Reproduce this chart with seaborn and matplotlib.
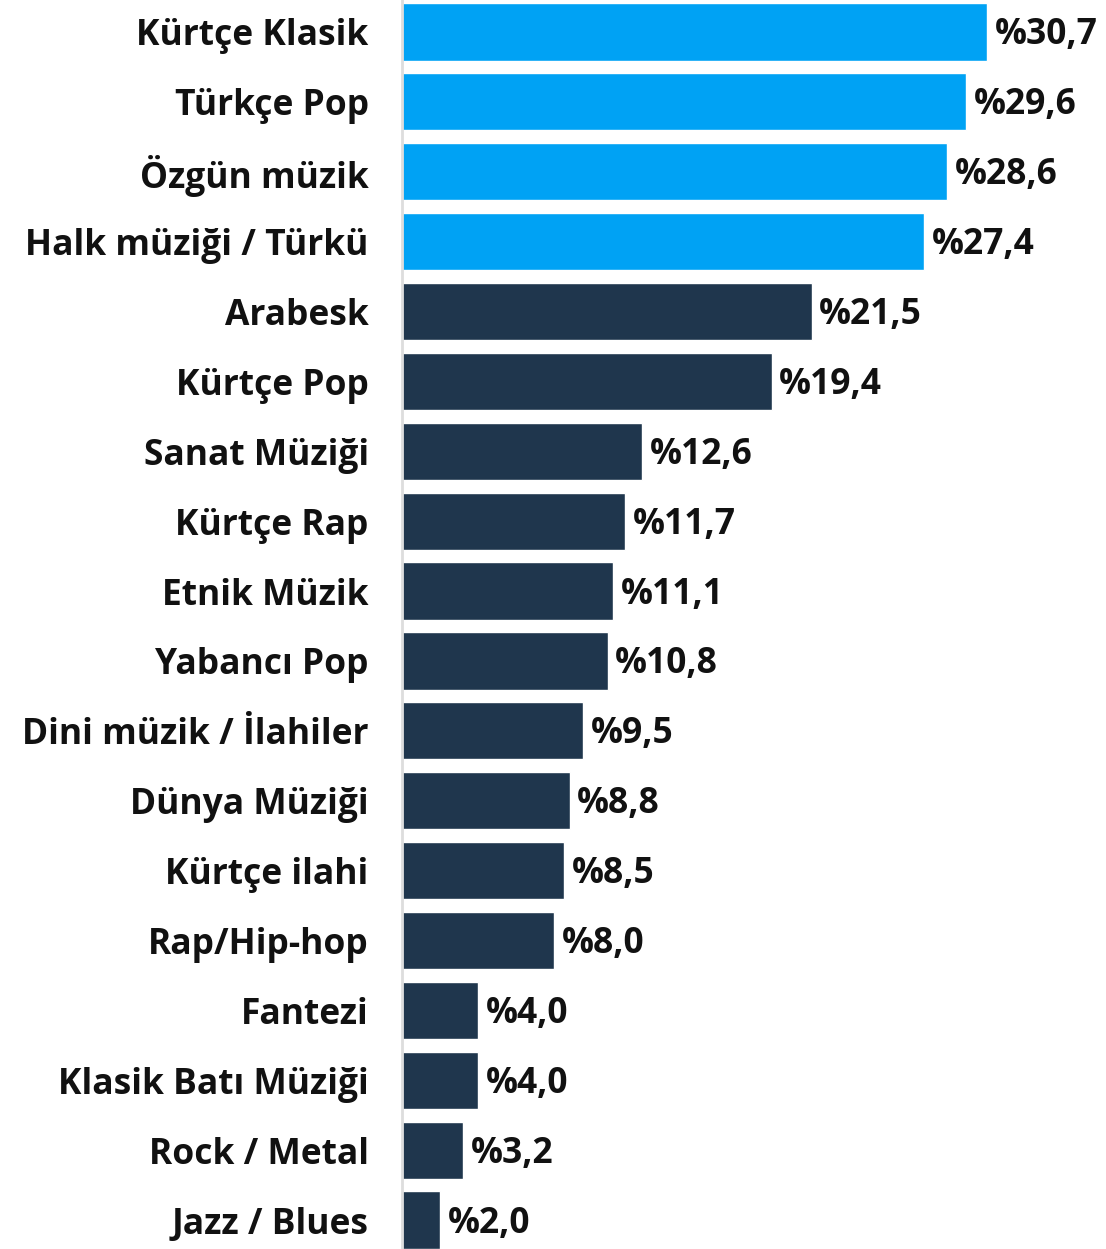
import pandas as pd
import matplotlib.pyplot as plt
import seaborn as sns

sns.set_theme(style="white")
plt.rcParams["font.family"] = ["Open Sans", "DejaVu Sans"]

genres = ["Kürtçe Klasik", "Türkçe Pop", "Özgün müzik", "Halk müziği / Türkü",
          "Arabesk", "Kürtçe Pop", "Sanat Müziği", "Kürtçe Rap", "Etnik Müzik",
          "Yabancı Pop", "Dini müzik / İlahiler", "Dünya Müziği", "Kürtçe ilahi",
          "Rap/Hip-hop", "Fantezi", "Klasik Batı Müziği", "Rock / Metal", "Jazz / Blues"]
shares = [30.7, 29.6, 28.6, 27.4, 21.5, 19.4, 12.6, 11.7, 11.1, 10.8,
          9.5, 8.8, 8.5, 8.0, 4.0, 4.0, 3.2, 2.0]
top_group = ["Kürtçe Klasik", "Türkçe Pop", "Özgün müzik", "Halk müziği / Türkü"]

df = pd.DataFrame({"genre": genres, "share": shares})
df["group"] = ["top" if g in top_group else "rest" for g in df["genre"]]

fig = plt.figure(figsize=(11.06, 12.49), dpi=100)
ax = fig.add_axes([0.3635, -0.0048, 0.6365, 1.0072])

sns.barplot(data=df, x="share", y="genre", hue="group",
            palette={"top": "#00A2F4", "rest": "#1F364D"}, saturation=1,
            width=0.82, dodge=False, legend=False, ax=ax)

# value labels
for i, v in enumerate(shares):
    ax.text(v + 0.4, i + 0.05, "%" + f"{v:.1f}".replace(".", ","),
            va="center", ha="left", fontsize=25.5, fontweight="bold", color="#111111")

ax.set_xlim(0, 36.96)
ax.set_ylim(17.5, -0.5)
ax.set_xlabel("")
ax.set_ylabel("")
ax.set_xticks([])
ax.tick_params(axis="y", length=0, pad=24, labelsize=25.5)
for lab in ax.get_yticklabels():
    lab.set_fontweight("bold")
    lab.set_color("#111111")
for s in ["top", "right", "bottom"]:
    ax.spines[s].set_visible(False)
ax.spines["left"].set_color("#DDDDDD")
ax.spines["left"].set_linewidth(2)

fig.savefig("out.png", dpi=100)
